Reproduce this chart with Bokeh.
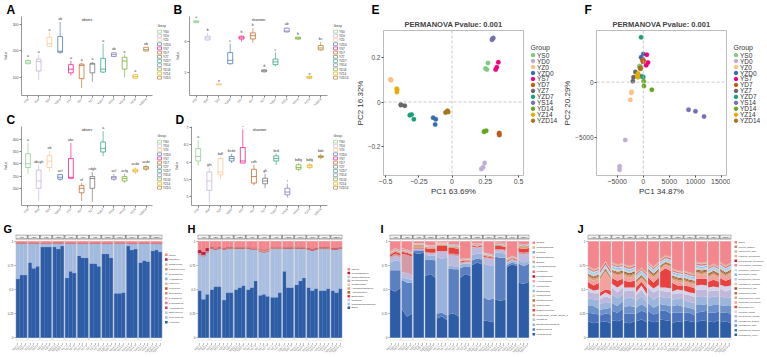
import math
from bokeh.plotting import figure
from bokeh.models import ColumnDataSource, FixedTicker, Range1d, Span, Title
from bokeh.layouts import row, column
from bokeh.core.properties import value
from bokeh.embed import file_html
from bokeh.resources import INLINE

FONT = "Liberation Sans"

GROUPS = ["YS0", "YD0", "YZ0", "YZD0", "YS7", "YD7", "YZ7", "YZD7",
          "YS14", "YD14", "YZ14", "YZD14"]
GROUP_COLORS = ["#7FC97F", "#BEAED4", "#FDC086", "#386CB0", "#F0027F", "#BF5B17",
                "#666666", "#1B9E77", "#7570B3", "#66A61E", "#E6AB02", "#A6761D"]
SAMPLES = [f"{g}-{k}" for g in GROUPS for k in (1, 2, 3)]

# ---- alpha diversity: lower whisker, Q1, median, Q3, upper whisker per group ----
A_STATS = [[148, 152, 158, 164, 169], [90, 124, 160, 169, 186], [215, 218, 228, 252, 269],
           [190, 195, 199, 255, 310], [107, 117, 131, 148, 162], [60, 95, 145, 150, 155],
           [83, 117, 150, 153, 159], [117, 120, 131, 172, 228], [176, 179, 186, 193, 196],
           [100, 131, 162, 176, 186], [95, 97, 103, 110, 113], [198, 200, 205, 214, 216]]
A_LETTERS = ["a", "a", "a", "ab", "a", "a", "a", "a", "ab", "a", "a", "ab"]

B_STATS = [[6.60, 6.62, 6.65, 6.68, 6.70], [6.03, 6.06, 6.12, 6.18, 6.29], [4.58, 4.60, 4.62, 4.64, 4.66],
           [5.26, 5.29, 5.40, 5.65, 5.94], [6.00, 6.09, 6.13, 6.18, 6.21], [5.97, 6.09, 6.20, 6.29, 6.44],
           [5.00, 5.03, 5.06, 5.09, 5.12], [5.20, 5.26, 5.35, 5.44, 5.65], [6.30, 6.32, 6.35, 6.44, 6.47],
           [6.06, 6.09, 6.12, 6.15, 6.17], [4.80, 4.82, 4.85, 4.88, 4.90], [5.70, 5.74, 5.80, 5.88, 6.00]]
B_LETTERS = ["a", "b", "e", "c", "b", "b", "d", "c", "ab", "b", "e", "bc"]

C_STATS = [[259, 285, 300, 341, 385], [148, 200, 230, 274, 296], [267, 285, 311, 333, 352],
           [230, 237, 245, 256, 259], [237, 241, 245, 322, 385], [148, 182, 200, 211, 222],
           [145, 200, 240, 248, 267], [330, 348, 363, 389, 433], [230, 237, 243, 248, 259],
           [222, 230, 240, 248, 259], [259, 267, 272, 278, 285], [270, 278, 283, 289, 296]]
C_LETTERS = ["a", "abcgh", "ab", "acf", "abc", "ef", "cdgh", "a", "acf", "acfg", "acde", "acde"]

D_STATS = [[5.89, 6.03, 6.16, 6.39, 6.63], [4.79, 5.18, 5.45, 5.71, 5.84], [5.50, 5.63, 5.71, 6.10, 6.16],
           [5.97, 6.03, 6.10, 6.16, 6.24], [5.97, 5.97, 6.03, 6.42, 6.95], [5.32, 5.39, 5.58, 5.79, 5.92],
           [5.24, 5.37, 5.45, 5.53, 5.66], [5.92, 6.03, 6.10, 6.18, 6.24], [4.97, 5.05, 5.13, 5.24, 5.37],
           [5.74, 5.79, 5.84, 5.92, 5.97], [5.79, 5.84, 5.89, 5.92, 5.97], [6.08, 6.13, 6.16, 6.18, 6.24]]
D_LETTERS = ["a", "ghi", "bdf", "bcde", "a", "cdh", "gh", "bcd", "i", "bdfg", "bdfg", "bde"]

# ---- PCoA coordinates, three samples per group in GROUPS order ----
E_PC1 = [0.252, 0.262, 0.270, 0.220, 0.233, 0.245, -0.463, -0.460, -0.458, -0.142, -0.122, -0.127,
         0.328, 0.336, 0.348, 0.355, 0.356, 0.353, -0.385, -0.355, -0.384, -0.318, -0.304, -0.287,
         0.300, 0.310, 0.305, 0.245, 0.257, 0.240, -0.415, -0.413, -0.414, -0.049, -0.034, -0.029]
E_PC2 = [0.152, 0.147, 0.177, -0.303, -0.296, -0.276, 0.102, 0.099, 0.101, -0.071, -0.078, -0.102,
         0.147, 0.158, 0.180, -0.140, -0.150, -0.145, -0.014, -0.017, -0.012, -0.060, -0.057, -0.078,
         0.282, 0.290, 0.287, -0.132, -0.130, -0.135, 0.060, 0.055, 0.045, -0.048, -0.040, -0.045]
F_PC1 = [-727, -560, -650, -3455, -4545, -4545, -2236, -2291, -2473, 0, -418, -180,
         673, 909, 545, 60, -150, -80, -1509, -1873, -2000, -418, -418, 0,
         8673, 10000, 11636, 73, 127, 1636, -1018, -1145, -1018, -564, -500, -620]
F_PC2 = [1464, 1420, 1380, -5234, -7603, -7926, -871, -961, -1589, 2540, 2244, 2128,
         2487, 1768, 1526, 1948, 2000, 1850, 925, 449, 90, 4066, 539, 476,
         -2487, -2630, -3115, 90, -359, -691, 781, 628, 449, 1300, 1200, 1250]

# ---- relative abundance (per sample for main taxa, per group for minor taxa) ----
G_NAMES = ["Firmicutes", "Proteobacteria", "Bacteroidetes", "Actinobacteria", "Cyanobacteria",
           "Fusobacteria", "Spirochaetes", "Tenericutes", "Chloroflexi", "Acidobacteria",
           "Synergistetes", "Planctomycetes", "Elusimicrobia", "Nitrospirae", "Others"]
G_COLORS = ["#2E5DA8", "#A3BADF", "#C5C3E0", "#E0434A", "#E97B86", "#F2B2B0", "#D98B6B",
            "#B55E34", "#E4B48E", "#8FB4DF", "#BCD2EE", "#C69C7F", "#D8B79A", "#B5204A", "#F3878D"]
G_FIRMICUTES = [0.61, 0.65, 0.65, 0.78, 0.72, 0.74, 0.94, 0.94, 0.94, 0.94, 0.92, 0.95,
                0.62, 0.69, 0.67, 0.85, 0.83, 0.83, 0.77, 0.77, 0.74, 0.87, 0.87, 0.83,
                0.46, 0.46, 0.47, 0.95, 0.91, 0.92, 0.78, 0.80, 0.79, 0.90, 0.91, 0.89]
G_PROTEO = [0.365, 0.325, 0.325, 0.195, 0.255, 0.235, 0.035, 0.035, 0.035, 0.035, 0.055, 0.025,
            0.355, 0.285, 0.305, 0.125, 0.145, 0.145, 0.205, 0.205, 0.235, 0.105, 0.105, 0.145,
            0.515, 0.515, 0.505, 0.025, 0.065, 0.055, 0.195, 0.175, 0.185, 0.075, 0.065, 0.085]
G_MINOR = [
    [0.003, 0.002, 0.001, 0.004, 0.002, 0.001, 0.002, 0.001, 0.003, 0.001, 0.002, 0.001],
    [0.002, 0.001, 0.001, 0.002, 0.001, 0.001, 0.001, 0.001, 0.002, 0.001, 0.001, 0.001],
    [0.001, 0.001, 0.0005, 0.001, 0.001, 0.0005, 0.001, 0.0005, 0.001, 0.0005, 0.001, 0.0005],
    [0.001, 0.0005, 0.0005, 0.001, 0.0005, 0.0005, 0.0005, 0.0005, 0.001, 0.0005, 0.0005, 0.0005],
    [0.0005, 0.0005, 0.0003, 0.0008, 0.0005, 0.0003, 0.0005, 0.0003, 0.0006, 0.0003, 0.0004, 0.0003],
    [0.0004, 0.0003, 0.0002, 0.0006, 0.0004, 0.0002, 0.0003, 0.0002, 0.0005, 0.0002, 0.0003, 0.0002],
    [0.0003, 0.0003, 0.0002, 0.0005, 0.0003, 0.0002, 0.0003, 0.0002, 0.0004, 0.0002, 0.0003, 0.0002],
    [0.0003, 0.0002, 0.0002, 0.0004, 0.0003, 0.0002, 0.0002, 0.0002, 0.0003, 0.0002, 0.0002, 0.0002],
    [0.0002, 0.0002, 0.0001, 0.0003, 0.0002, 0.0001, 0.0002, 0.0001, 0.0003, 0.0001, 0.0002, 0.0001],
    [0.0002, 0.0002, 0.0001, 0.0003, 0.0002, 0.0001, 0.0002, 0.0001, 0.0002, 0.0001, 0.0002, 0.0001],
    [0.0002, 0.0001, 0.0001, 0.0002, 0.0001, 0.0001, 0.0001, 0.0001, 0.0002, 0.0001, 0.0001, 0.0001],
    [0.0002, 0.0001, 0.0001, 0.0002, 0.0001, 0.0001, 0.0001, 0.0001, 0.0002, 0.0001, 0.0001, 0.0001],
]

H_NAMES = ["Bacilli", "Gammaproteobacteria", "Clostridia", "Bacteroidia", "Actinobacteria",
           "Alphaproteobacteria", "Negativicutes", "Erysipelotrichia", "Campylobacteria",
           "Melainabacteria", "Others"]
H_COLORS = ["#2E5DA8", "#A9BEE0", "#C4C2DF", "#E53A3A", "#B5683C", "#D8A47F", "#E9C7A5",
            "#C9A0A8", "#D1B8C8", "#B31B3F", "#F3878D"]
H_BACILLI = [0.49, 0.40, 0.45, 0.50, 0.53, 0.53, 0.39, 0.47, 0.47, 0.50, 0.52, 0.54,
             0.50, 0.52, 0.59, 0.44, 0.45, 0.43, 0.42, 0.42, 0.47, 0.69, 0.52, 0.52,
             0.55, 0.59, 0.62, 0.52, 0.49, 0.51, 0.49, 0.49, 0.51, 0.49, 0.47, 0.51]
H_GAMMA = [0.37, 0.44, 0.43, 0.42, 0.38, 0.39, 0.52, 0.45, 0.45, 0.42, 0.40, 0.38,
           0.42, 0.39, 0.32, 0.45, 0.43, 0.46, 0.50, 0.50, 0.45, 0.23, 0.40, 0.40,
           0.37, 0.33, 0.30, 0.39, 0.41, 0.40, 0.43, 0.43, 0.41, 0.42, 0.44, 0.41]
H_MINOR = [
    [0.006, 0.005, 0.004, 0.005, 0.006, 0.007, 0.004, 0.005, 0.006, 0.005, 0.004, 0.005],
    [0.004, 0.004, 0.003, 0.004, 0.005, 0.004, 0.003, 0.004, 0.004, 0.004, 0.003, 0.004],
    [0.003, 0.003, 0.003, 0.003, 0.003, 0.003, 0.002, 0.003, 0.003, 0.003, 0.003, 0.003],
    [0.002, 0.003, 0.002, 0.002, 0.002, 0.003, 0.002, 0.002, 0.003, 0.002, 0.002, 0.002],
    [0.002, 0.001, 0.002, 0.001, 0.002, 0.002, 0.001, 0.002, 0.001, 0.002, 0.001, 0.002],
    [0.001, 0.002, 0.001, 0.002, 0.001, 0.001, 0.002, 0.001, 0.002, 0.001, 0.002, 0.001],
    [0.001, 0.001, 0.001, 0.001, 0.001, 0.002, 0.001, 0.001, 0.001, 0.001, 0.001, 0.001],
    [0.030, 0.002, 0.001, 0.001, 0.002, 0.003, 0.001, 0.001, 0.001, 0.002, 0.001, 0.001],
]

I_NAMES = ["Lactobacillus", "Enterococcus", "Escherichia-Shigella", "Weissella",
           "Clostridium_sensu_stricto_1", "Staphylococcus", "Romboutsia", "Streptococcus",
           "Lactococcus", "Bacteroides", "Turicibacter", "Acinetobacter", "Pseudomonas",
           "Klebsiella", "Faecalibacterium", "Blautia", "Bifidobacterium", "Proteus",
           "Sphingomonas", "Others"]
I_COLORS = ["#2E5DA8", "#5B80C2", "#9AB3DC", "#BDBADD", "#D49AA6", "#E8413F", "#D9A47B",
            "#B7703F", "#E6C3A2", "#8CC0E6", "#B9D7F0", "#F2A4A4", "#C8142E", "#E07B7F",
            "#A6CEE3", "#CFA58C", "#F6C6B8", "#7FA7D6", "#DDB990", "#F4878D"]
I_MAIN = [
    [0.50, 0.48, 0.52, 0.30, 0.22, 0.25, 0.88, 0.87, 0.88, 0.64, 0.66, 0.62,
     0.20, 0.22, 0.18, 0.24, 0.25, 0.22, 0.62, 0.66, 0.64, 0.75, 0.78, 0.76,
     0.18, 0.17, 0.16, 0.40, 0.38, 0.40, 0.73, 0.76, 0.74, 0.57, 0.56, 0.58],
    [0.20, 0.22, 0.18, 0.30, 0.35, 0.32, 0.02, 0.03, 0.02, 0.17, 0.15, 0.18,
     0.05, 0.04, 0.05, 0.48, 0.46, 0.49, 0.10, 0.08, 0.09, 0.05, 0.04, 0.05,
     0.24, 0.22, 0.25, 0.44, 0.45, 0.43, 0.02, 0.02, 0.02, 0.20, 0.18, 0.19],
    [0.08, 0.10, 0.09, 0.03, 0.04, 0.03, 0.01, 0.01, 0.01, 0.05, 0.04, 0.05,
     0.58, 0.56, 0.60, 0.03, 0.03, 0.03, 0.04, 0.03, 0.04, 0.06, 0.05, 0.06,
     0.35, 0.36, 0.34, 0.04, 0.05, 0.04, 0.02, 0.02, 0.02, 0.03, 0.04, 0.03],
    [0.04, 0.05, 0.04, 0.05, 0.06, 0.05, 0.01, 0.01, 0.01, 0.02, 0.02, 0.02,
     0.06, 0.07, 0.06, 0.10, 0.11, 0.10, 0.01, 0.01, 0.01, 0.08, 0.06, 0.07,
     0.06, 0.07, 0.06, 0.03, 0.03, 0.03, 0.01, 0.01, 0.01, 0.07, 0.08, 0.07],
]
I_GROUP = [
    [0.02, 0.19, 0.005, 0.01, 0.01, 0.02, 0.01, 0.005, 0.01, 0.01, 0.005, 0.02],
    [0.02, 0.02, 0.01, 0.04, 0.05, 0.06, 0.01, 0.01, 0.01, 0.03, 0.01, 0.04],
    [0.01, 0.01, 0.02, 0.01, 0.01, 0.01, 0.005, 0.005, 0.005, 0.01, 0.005, 0.02],
    [0.005, 0.004, 0.006, 0.004, 0.005, 0.006, 0.003, 0.004, 0.005, 0.004, 0.003, 0.005],
    [0.004, 0.003, 0.004, 0.003, 0.004, 0.005, 0.003, 0.003, 0.004, 0.003, 0.003, 0.004],
    [0.003, 0.004, 0.003, 0.003, 0.003, 0.004, 0.002, 0.003, 0.003, 0.004, 0.002, 0.003],
    [0.003, 0.003, 0.002, 0.003, 0.003, 0.003, 0.002, 0.002, 0.003, 0.003, 0.002, 0.003],
    [0.002, 0.003, 0.002, 0.002, 0.003, 0.002, 0.002, 0.002, 0.002, 0.003, 0.002, 0.002],
    [0.002, 0.002, 0.002, 0.002, 0.002, 0.003, 0.002, 0.002, 0.002, 0.002, 0.002, 0.002],
    [0.002, 0.002, 0.001, 0.002, 0.002, 0.002, 0.001, 0.002, 0.002, 0.002, 0.001, 0.002],
    [0.002, 0.001, 0.001, 0.002, 0.001, 0.002, 0.001, 0.001, 0.002, 0.001, 0.001, 0.002],
    [0.001, 0.002, 0.001, 0.001, 0.002, 0.001, 0.001, 0.001, 0.001, 0.002, 0.001, 0.001],
    [0.001, 0.001, 0.001, 0.001, 0.001, 0.002, 0.001, 0.001, 0.001, 0.001, 0.001, 0.001],
    [0.001, 0.001, 0.001, 0.001, 0.001, 0.001, 0.001, 0.001, 0.002, 0.001, 0.001, 0.001],
    [0.001, 0.001, 0.001, 0.002, 0.001, 0.001, 0.001, 0.001, 0.001, 0.001, 0.001, 0.001],
]

J_NAMES = ["Lactobacillus_reuteri", "Lactobacillus_johnsonii", "Lactobacillus_agilis",
           "Lactobacillus_aviarius", "Enterococcus_faecalis", "Weissella_cibaria",
           "Escherichia_coli", "Clostridium_perfringens", "Staphylococcus_lentus",
           "Romboutsia_ilealis", "Streptococcus_suis", "Lactobacillus_crispatus",
           "Enterococcus_faecium", "Bacteroides_fragilis", "Turicibacter_sanguinis",
           "Acinetobacter_baumannii", "Pseudomonas_aeruginosa", "Klebsiella_pneumoniae",
           "Lactococcus_lactis", "Proteus_mirabilis", "Others"]
J_COLORS = ["#2E5DA8", "#4A73BB", "#6E92CC", "#9CB5DD", "#BEB8DC", "#D6D2EA", "#E8413F",
            "#F3A09F", "#D9A47B", "#B7703F", "#8B5A3C", "#E6C8A8", "#A9D0EE", "#86BDE6",
            "#C3DDF3", "#D98D92", "#C21E44", "#F2B48D", "#CBB58E", "#B98A80", "#F4878D"]
J_MAIN = [
    [0.17, 0.15, 0.16, 0.16, 0.17, 0.15, 0.18, 0.17, 0.19, 0.16, 0.15, 0.17,
     0.17, 0.19, 0.16, 0.18, 0.16, 0.17, 0.19, 0.18, 0.17, 0.15, 0.17, 0.16,
     0.18, 0.17, 0.16, 0.16, 0.18, 0.17, 0.17, 0.16, 0.18, 0.16, 0.17, 0.15],
    [0.09, 0.10, 0.08, 0.07, 0.08, 0.09, 0.10, 0.09, 0.11, 0.09, 0.10, 0.08,
     0.08, 0.09, 0.10, 0.10, 0.08, 0.09, 0.09, 0.10, 0.08, 0.11, 0.09, 0.10,
     0.08, 0.09, 0.07, 0.10, 0.09, 0.11, 0.09, 0.10, 0.09, 0.10, 0.09, 0.10],
    [0.07, 0.08, 0.06, 0.06, 0.05, 0.07, 0.08, 0.07, 0.08, 0.07, 0.08, 0.07,
     0.06, 0.07, 0.05, 0.08, 0.07, 0.08, 0.07, 0.06, 0.08, 0.07, 0.08, 0.06,
     0.06, 0.05, 0.06, 0.08, 0.07, 0.07, 0.07, 0.08, 0.07, 0.08, 0.07, 0.08],
    [0.08, 0.07, 0.09, 0.06, 0.07, 0.05, 0.09, 0.08, 0.07, 0.08, 0.09, 0.08,
     0.07, 0.08, 0.06, 0.09, 0.08, 0.09, 0.08, 0.07, 0.09, 0.06, 0.07, 0.08,
     0.07, 0.06, 0.07, 0.09, 0.08, 0.08, 0.08, 0.09, 0.08, 0.09, 0.08, 0.09],
    [0.07, 0.06, 0.07, 0.05, 0.06, 0.05, 0.07, 0.06, 0.07, 0.08, 0.07, 0.08,
     0.06, 0.07, 0.05, 0.07, 0.08, 0.07, 0.06, 0.07, 0.06, 0.06, 0.05, 0.06,
     0.06, 0.07, 0.06, 0.07, 0.08, 0.07, 0.07, 0.06, 0.07, 0.08, 0.07, 0.08],
    [0.04, 0.03, 0.04, 0.03, 0.04, 0.03, 0.04, 0.05, 0.04, 0.04, 0.03, 0.04,
     0.03, 0.04, 0.03, 0.04, 0.04, 0.05, 0.03, 0.04, 0.03, 0.03, 0.04, 0.03,
     0.04, 0.03, 0.04, 0.04, 0.05, 0.04, 0.04, 0.04, 0.03, 0.04, 0.05, 0.04],
    [0.06, 0.05, 0.07, 0.04, 0.03, 0.05, 0.06, 0.07, 0.05, 0.07, 0.06, 0.07,
     0.05, 0.04, 0.06, 0.07, 0.06, 0.08, 0.16, 0.20, 0.18, 0.09, 0.04, 0.05,
     0.05, 0.06, 0.05, 0.07, 0.06, 0.07, 0.06, 0.07, 0.06, 0.07, 0.06, 0.07],
    [0.04, 0.05, 0.04, 0.12, 0.18, 0.10, 0.04, 0.05, 0.04, 0.05, 0.04, 0.05,
     0.04, 0.03, 0.04, 0.04, 0.05, 0.04, 0.03, 0.03, 0.04, 0.03, 0.04, 0.03,
     0.04, 0.03, 0.04, 0.05, 0.04, 0.05, 0.04, 0.05, 0.04, 0.05, 0.04, 0.05],
]
J_GROUP = [
    [0.020, 0.015, 0.018, 0.022, 0.016, 0.019, 0.014, 0.020, 0.017, 0.021, 0.018, 0.020],
    [0.015, 0.012, 0.016, 0.014, 0.013, 0.015, 0.012, 0.014, 0.013, 0.016, 0.015, 0.014],
    [0.010, 0.011, 0.009, 0.012, 0.010, 0.011, 0.009, 0.010, 0.011, 0.010, 0.012, 0.011],
    [0.012, 0.010, 0.013, 0.011, 0.012, 0.010, 0.011, 0.012, 0.010, 0.013, 0.011, 0.012],
    [0.015, 0.012, 0.014, 0.013, 0.016, 0.014, 0.012, 0.013, 0.015, 0.014, 0.013, 0.015],
    [0.010, 0.009, 0.011, 0.010, 0.012, 0.010, 0.009, 0.011, 0.010, 0.011, 0.010, 0.009],
    [0.008, 0.007, 0.009, 0.008, 0.007, 0.009, 0.008, 0.007, 0.008, 0.009, 0.008, 0.007],
    [0.009, 0.010, 0.008, 0.009, 0.010, 0.008, 0.009, 0.010, 0.008, 0.009, 0.010, 0.009],
    [0.006, 0.012, 0.005, 0.006, 0.007, 0.005, 0.006, 0.005, 0.007, 0.006, 0.005, 0.006],
    [0.007, 0.006, 0.008, 0.007, 0.006, 0.007, 0.008, 0.006, 0.007, 0.008, 0.007, 0.006],
    [0.005, 0.006, 0.005, 0.006, 0.005, 0.006, 0.005, 0.006, 0.005, 0.006, 0.005, 0.006],
    [0.006, 0.005, 0.006, 0.005, 0.006, 0.005, 0.006, 0.005, 0.006, 0.005, 0.006, 0.005],
]


def per_sample(group_values):
    return [v for v in group_values for _ in range(3)]


def with_others(layers):
    totals = [sum(col) for col in zip(*layers)]
    return layers + [[max(0.0, 1.0 - t) for t in totals]]


def new_fig(width, height, xr, yr, left, right, top, bottom):
    p = figure(width=width, height=height, x_range=Range1d(*xr), y_range=Range1d(*yr),
               output_backend="svg", toolbar_location=None,
               min_border_left=left, min_border_right=right,
               min_border_top=top, min_border_bottom=bottom)
    p.grid.visible = False
    p.background_fill_color = "white"
    p.border_fill_color = "white"
    return p


def key_fig(width, height, top, bottom):
    """Axis-less strip beside a panel; y is in page pixels from the strip's top edge."""
    p = figure(width=width, height=height, x_range=Range1d(0, width),
               y_range=Range1d(height - bottom, top),
               output_backend="svg", toolbar_location=None, title=None,
               x_axis_location=None, y_axis_location=None,
               min_border_left=0, min_border_right=0, min_border_top=top, min_border_bottom=bottom)
    p.grid.visible = False
    p.outline_line_color = None
    p.background_fill_color = "white"
    p.border_fill_color = "white"
    return p


def add_key(p, labels, colors, x0, y0, pitch, font, kind, title=None, title_font=None, gw=4, gh=3):
    if title:
        p.text(x=[x0], y=[y0], text=[title], text_font=value(FONT), text_font_size=title_font or font,
               text_color="#333333", text_baseline="top", text_align="left")
        y0 = y0 + pitch * 1.3
    ys = [y0 + pitch * (i + 0.5) for i in range(len(labels))]
    if kind == "box":
        p.rect(x=[x0 + gw / 2] * len(ys), y=ys, width=gw, height=gh, fill_color="white",
               line_color=colors, line_width=0.6)
    elif kind == "dot":
        p.scatter(x=[x0 + gw / 2] * len(ys), y=ys, size=gh, fill_color=colors, line_color=colors)
    else:
        p.rect(x=[x0 + gw / 2] * len(ys), y=ys, width=gw, height=gh, fill_color=colors,
               line_color=None)
    p.text(x=[x0 + gw + 1.5] * len(ys), y=ys, text=labels, text_font=value(FONT),
           text_font_size=font, text_color="#333333", text_baseline="middle", text_align="left")


def style_axis(ax, size, color="#4D4D4D", tick_out=2):
    ax.major_label_text_font = FONT
    ax.major_label_text_font_size = size
    ax.major_label_text_color = color
    ax.axis_label_text_font = FONT
    ax.axis_label_text_font_style = "normal"
    ax.minor_tick_line_color = None
    ax.major_tick_in = 0
    ax.major_tick_out = tick_out
    ax.major_label_standoff = 1


def letter_title(t, txt, offset, size="12px"):
    t.text = txt
    t.align = "left"
    t.offset = offset
    t.text_font = FONT
    t.text_font_size = size
    t.text_font_style = "bold"
    t.text_color = "black"
    t.standoff = 0


# ---------------- box plots (A-D) ----------------
BOX_H, BOX_TOP, BOX_BOTTOM = 110, 14, 13


def box_panel(letter, title, stats, letters, yr, yticks, width, left, right, letter_dx):
    p = new_fig(width, BOX_H, (0.4, 12.6), yr, left, right, BOX_TOP, BOX_BOTTOM)
    p.outline_line_color = None
    letter_title(p.title, letter, letter_dx)
    xs = list(range(1, 13))
    src = ColumnDataSource(dict(
        x=xs, lo=[s[0] for s in stats], q1=[s[1] for s in stats], med=[s[2] for s in stats],
        q3=[s[3] for s in stats], hi=[s[4] for s in stats],
        xl=[x - 0.22 for x in xs], xr=[x + 0.22 for x in xs],
        color=GROUP_COLORS, letter=letters))
    p.segment(x0="x", y0="lo", x1="x", y1="q1", line_color="color", line_width=0.6, source=src)
    p.segment(x0="x", y0="q3", x1="x", y1="hi", line_color="color", line_width=0.6, source=src)
    p.vbar(x="x", width=0.44, bottom="q1", top="q3", fill_color="white",
           line_color="color", line_width=0.7, source=src)
    p.segment(x0="xl", y0="med", x1="xr", y1="med", line_color="color", line_width=0.7, source=src)
    p.text(x="x", y="hi", text="letter", source=src, text_font=value(FONT),
           text_font_size="3.5px", text_color="#333333", text_align="center",
           text_baseline="bottom", y_offset=-1)
    # metric name centred at the top of the panel
    p.text(x=[6.5], y=[yr[1]], text=[title], text_font=value(FONT), text_font_size="3.5px",
           text_color="#222222", text_align="center", text_baseline="top", y_offset=1)

    xa, ya = p.xaxis[0], p.yaxis[0]
    xa.ticker = FixedTicker(ticks=xs)
    xa.major_label_overrides = {i + 1: g for i, g in enumerate(GROUPS)}
    xa.major_label_orientation = math.pi / 4
    style_axis(xa, "3px")
    ya.ticker = FixedTicker(ticks=yticks)
    style_axis(ya, "3.5px")
    ya.axis_label = "Value"
    ya.axis_label_text_font_size = "3.5px"
    ya.axis_label_standoff = 2
    for ax in (xa, ya):
        ax.axis_line_color = "#7F7F7F"
        ax.major_tick_line_color = "#7F7F7F"
        ax.axis_line_width = 0.8
    return p


def box_key(width, x0):
    k = key_fig(width, BOX_H, BOX_TOP, BOX_BOTTOM)
    add_key(k, GROUPS, GROUP_COLORS, x0, 22, 4.4, "3px", "box", title="Group", gw=4, gh=3)
    return k


pA = box_panel("A", "observ", A_STATS, A_LETTERS, (31, 331), [100, 200, 300], 154, 18, 2, -15)
kA = box_key(17, 3)
pC = box_panel("C", "observ", C_STATS, C_LETTERS, (130, 452), [200, 250, 300, 350, 400], 154, 18, 2, -15)
kC = box_key(17, 3)
pB = box_panel("B", "shannon", B_STATS, B_LETTERS, (4.26, 6.82), [5, 6], 158, 18, 2, -16)
kB = box_key(23, 4)
pD = box_panel("D", "shannon", D_STATS, D_LETTERS, (4.74, 7.03), [5.0, 5.5, 6.0, 6.5, 7.0], 158, 18, 2, -16)
kD = box_key(23, 4)


# ---------------- PCoA (E, F) ----------------
PC_H, PC_TOP, PC_BOTTOM = 220, 29, 45


def pcoa_panel(letter, xs, ys, xr, yr, xticks, yticks, xlab, ylab, width, left, right, letter_dx):
    p = new_fig(width, PC_H, xr, yr, left, right, PC_TOP, PC_BOTTOM)
    p.outline_line_color = "#BDBDBD"
    p.outline_line_width = 1
    for dim in ("width", "height"):
        p.add_layout(Span(location=0, dimension=dim, line_color="#BDBDBD",
                          line_dash="3 2", line_width=0.8))
    for i, g in enumerate(GROUPS):
        p.scatter(xs[3 * i:3 * i + 3], ys[3 * i:3 * i + 3], size=4.5,
                  fill_color=GROUP_COLORS[i], line_color=GROUP_COLORS[i], line_width=0.3)
    # panel letter sits in the outer title row, the test result right above the frame
    letter_title(p.title, letter, letter_dx)
    p.add_layout(Title(text="PERMANOVA Pvalue: 0.001", align="center", text_font=FONT,
                       text_font_size="7.5px", text_font_style="bold", standoff=3), "above")
    xa, ya = p.xaxis[0], p.yaxis[0]
    xa.ticker = FixedTicker(ticks=xticks)
    ya.ticker = FixedTicker(ticks=yticks)
    style_axis(xa, "7px")
    style_axis(ya, "6.5px")
    for ax in (xa, ya):
        ax.axis_line_color = None
        ax.major_tick_line_color = "#4D4D4D"
        ax.axis_label_text_font_size = "8px"
        ax.axis_label_text_color = "#333333"
        ax.axis_label_standoff = 0
    xa.axis_label = xlab
    ya.axis_label = ylab
    return p


def pcoa_key(width, x0):
    k = key_fig(width, PC_H, PC_TOP, PC_BOTTOM)
    add_key(k, GROUPS, GROUP_COLORS, x0, 43, 6.0, "6.5px", "dot", title="Group",
            title_font="7px", gw=5, gh=3.5)
    return k


pE = pcoa_panel("E", E_PC1, E_PC2, (-0.515, 0.537), (-0.333, 0.324),
                [-0.5, -0.25, 0.0, 0.25, 0.5], [-0.2, 0.0, 0.2],
                "PC1 63.69%", "PC2 16.32%", 178, 28, 7, -12)
kE = pcoa_key(30, 0)
pF = pcoa_panel("F", F_PC1, F_PC2, (-8964, 15945), (-8438, 4668),
                [-5000, 0, 5000, 10000, 15000], [-5000, 0],
                "PC1 34.87%", "PC2 20.29%", 170, 29, 4, -12)
kF = pcoa_key(37, 3)


# ---------------- stacked composition (G-J) ----------------
ST_H, ST_TOP, ST_BOTTOM = 137, 14, 10


def stack_panel(letter, layers, colors, width, left, right, area, letter_dx):
    nf = len(GROUPS)
    p = new_fig(width, ST_H, (-0.4, 13 * nf - 0.6), (-0.06, 1.07), left, right, ST_TOP, ST_BOTTOM)
    p.outline_line_color = None
    letter_title(p.title, letter, letter_dx, "11px")
    keys = [f"t{k}" for k in range(len(layers))]
    lefts = [13 * i for i in range(nf)]
    if area:
        for i, l in enumerate(lefts):
            d = {"x": [l, l + 6, l + 12]}
            for k, key in enumerate(keys):
                d[key] = layers[k][3 * i:3 * i + 3]
            p.varea_stack(keys, x="x", color=colors, source=ColumnDataSource(d))
    else:
        d = {"x": [l + 2 + 4 * j for l in lefts for j in range(3)]}
        for k, key in enumerate(keys):
            d[key] = layers[k]
        p.vbar_stack(keys, x="x", width=4, color=colors, line_width=0.3,
                     source=ColumnDataSource(d))
    p.quad(left=[l - 0.1 for l in lefts], right=[l + 12.1 for l in lefts], bottom=-0.025, top=1.02,
           fill_color=None, line_color="#CFCFCF", line_width=0.5)
    p.quad(left=[l - 0.1 for l in lefts], right=[l + 12.1 for l in lefts], bottom=1.025, top=1.065,
           fill_color="#F4F4F4", line_color="#3A3A3A", line_width=0.5)
    p.text(x=[l + 6 for l in lefts], y=[1.045] * nf, text=GROUPS, text_font=value(FONT),
           text_font_size="2.5px", text_color="#222222", text_align="center",
           text_baseline="middle")
    xa, ya = p.xaxis[0], p.yaxis[0]
    ticks = [l + 2 + 4 * j for l in lefts for j in range(3)]
    xa.ticker = FixedTicker(ticks=ticks)
    xa.major_label_overrides = {t: s for t, s in zip(ticks, SAMPLES)}
    xa.major_label_orientation = math.pi / 4
    style_axis(xa, "2.5px", tick_out=1)
    ya.ticker = FixedTicker(ticks=[0, 0.25, 0.5, 0.75, 1.0])
    style_axis(ya, "3px", tick_out=1)
    for ax in (xa, ya):
        ax.axis_line_color = None
        ax.major_tick_line_color = "#7F7F7F"
    return p


def stack_key(width, names, colors, x0, pitch, font):
    k = key_fig(width, ST_H, ST_TOP, ST_BOTTOM)
    n = len(names)
    y0 = 70 - n * pitch / 2
    add_key(k, list(reversed(names)), list(reversed(colors)), x0, y0, pitch, font, "fill",
            gw=2.6, gh=2.6)
    return k


g_layers = with_others([G_FIRMICUTES, G_PROTEO] + [per_sample(v) for v in G_MINOR])
h_layers = with_others([H_BACILLI, H_GAMMA] + [per_sample(v) for v in H_MINOR])
i_layers = with_others(I_MAIN + [per_sample(v) for v in I_GROUP])
j_layers = with_others(J_MAIN + [per_sample(v) for v in J_GROUP])

pG = stack_panel("G", g_layers, G_COLORS, 164, 15, 2, False, -12)
kG = stack_key(22, G_NAMES, G_COLORS, 0.5, 5.0, "2.2px")
pH = stack_panel("H", h_layers, H_COLORS, 158, 11, 2, False, -10)
kH = stack_key(34, H_NAMES, H_COLORS, 3, 4.0, "2.4px")
pI = stack_panel("I", i_layers, I_COLORS, 153, 11, 2, True, -9)
kI = stack_key(44, I_NAMES, I_COLORS, 1, 5.0, "2.5px")
pJ = stack_panel("J", j_layers, J_COLORS, 158, 12, 2, True, -10)
kJ = stack_key(34, J_NAMES, J_COLORS, 1, 4.8, "2.1px")

top = row(column(row(pA, kA), row(pC, kC)), column(row(pB, kB), row(pD, kD)),
          row(pE, kE), row(pF, kF))
bottom = row(pG, kG, pH, kH, pI, kI, pJ, kJ)
page = column(top, bottom)

open("out.html", "w").write(file_html(page, INLINE))
